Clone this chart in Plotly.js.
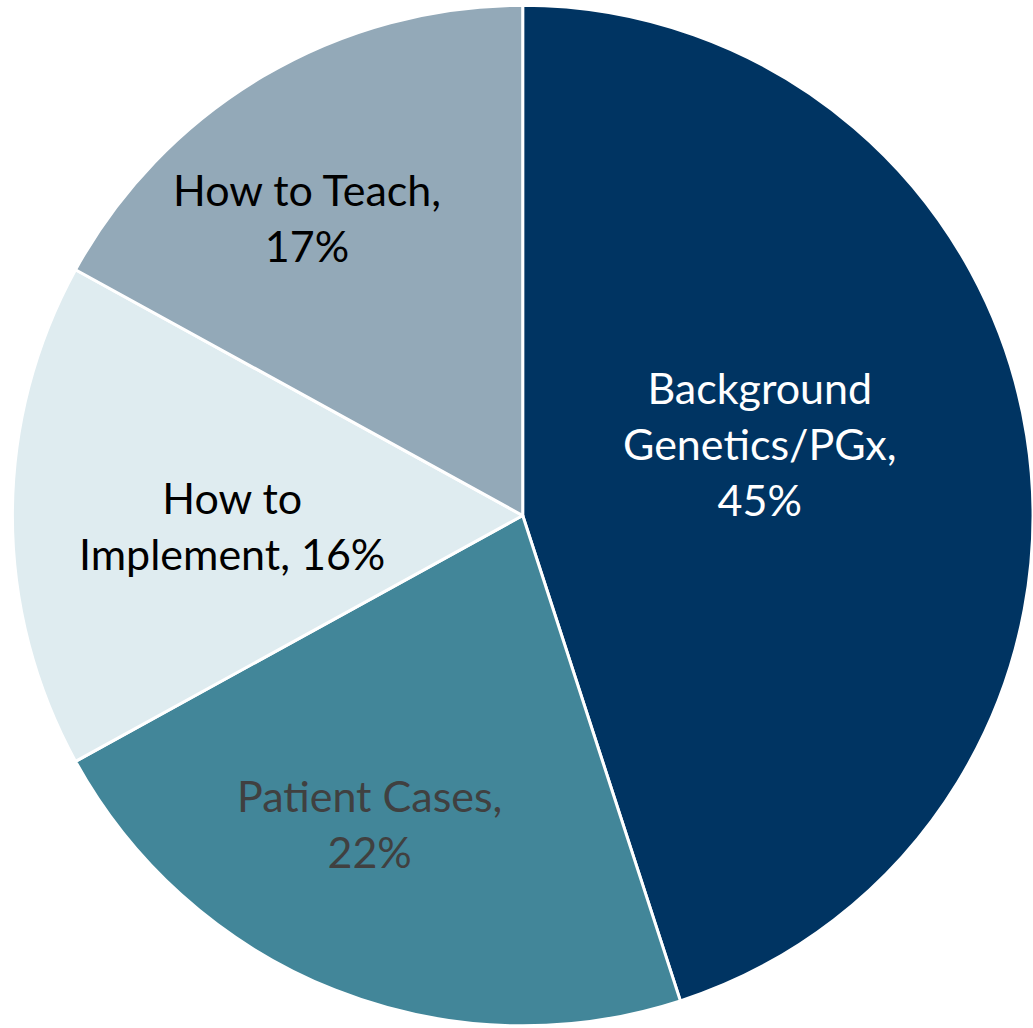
<!DOCTYPE html>
<html>
<head>
<meta charset="utf-8">
<script src="https://cdn.plot.ly/plotly-3.0.1.min.js"></script>
<style>
  html, body { margin: 0; padding: 0; background: #ffffff; }
  #chart { width: 1033px; height: 1028px; }
</style>
</head>
<body>
<div id="chart"></div>
<script>
// ---- data ----
const categories = ["Background Genetics/PGx", "Patient Cases", "How to Implement", "How to Teach"];
const values = [45, 22, 16, 17];
// label text as shown on the chart (line breaks where the reference wraps)
const labelLines = [
  ["Background", "Genetics/PGx,", "{v}%"],
  ["Patient Cases,", "{v}%"],
  ["How to", "Implement, {v}%"],
  ["How to Teach,", "{v}%"]
];

// ---- styles ----
const sliceColors = ["#003462", "#428699", "#DFECF0", "#93A9B8"];
const textColors = ["#FFFFFF", "#404040", "#000000", "#000000"];
const labelPos = [[0.736, 0.569], [0.358, 0.199], [0.2246, 0.489], [0.297, 0.788]];

const trace = {
  type: "pie",
  labels: categories,
  values: values,
  sort: false,
  direction: "clockwise",
  rotation: 0,
  marker: { colors: sliceColors, line: { color: "#FFFFFF", width: 3 } },
  textinfo: "none",
  hoverinfo: "skip",
  domain: { x: [0.012, 1], y: [0, 0.997] }
};

const annotations = categories.map((c, i) => ({
  xref: "paper", yref: "paper",
  x: labelPos[i][0], y: labelPos[i][1],
  xanchor: "center", yanchor: "middle",
  showarrow: false,
  align: "center",
  text: labelLines[i].map(s => s.replace("{v}", values[i])).join("<br>"),
  font: { family: "Lato, 'Noto Sans', sans-serif", size: 43, color: textColors[i] }
}));

const layout = {
  width: 1033, height: 1028,
  margin: { l: 0, r: 0, t: 0, b: 0 },
  paper_bgcolor: "#FFFFFF",
  showlegend: false,
  annotations: annotations
};

Plotly.newPlot("chart", [trace], layout, { displayModeBar: false, staticPlot: true });
</script>
</body>
</html>
